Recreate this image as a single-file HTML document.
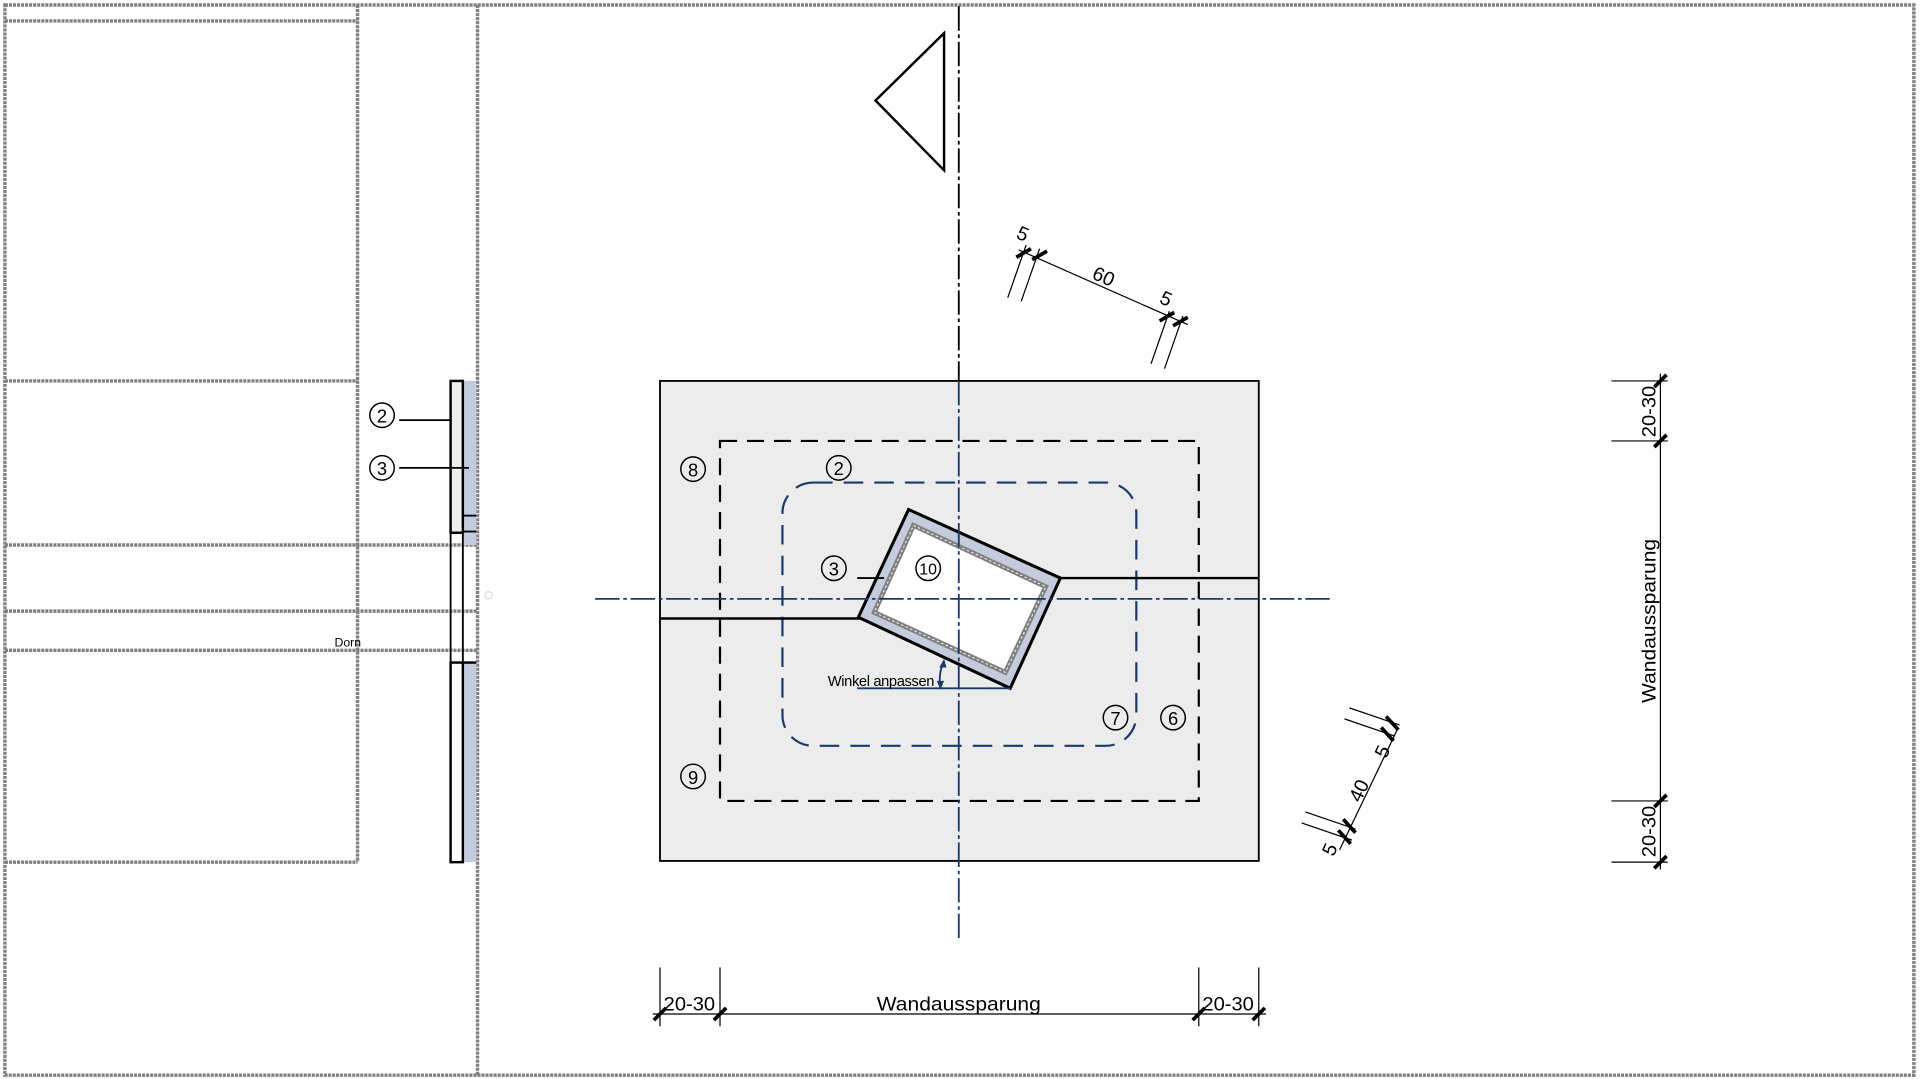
<!DOCTYPE html>
<html><head><meta charset="utf-8"><style>html,body{margin:0;padding:0;background:#fff}svg{display:block}text{font-family:"Liberation Sans",sans-serif}</style></head><body>
<svg width="1920" height="1079" viewBox="0 0 1568 881" xmlns="http://www.w3.org/2000/svg">
<rect x="0" y="0" width="1568" height="881" fill="#fff"/>
<g stroke="#808080" stroke-width="2.8" stroke-dasharray="2.5 0.8" fill="none">
<rect x="4" y="4" width="1559" height="874"/>
<line x1="390" y1="4" x2="390" y2="878"/>
<line x1="292" y1="4" x2="292" y2="704"/>
<line x1="4" y1="17" x2="292" y2="17"/>
<line x1="4" y1="311" x2="292" y2="311"/>
<line x1="4" y1="445" x2="390" y2="445"/>
<line x1="4" y1="499" x2="390" y2="499"/>
<line x1="4" y1="531" x2="390" y2="531"/>
<line x1="4" y1="704" x2="292" y2="704"/>
</g>
<rect x="378" y="311" width="11" height="134" fill="#c3cbdc"/>
<rect x="378" y="541" width="11" height="163" fill="#c3cbdc"/>
<rect x="368" y="311" width="10" height="124" fill="#eeeeee" stroke="#000" stroke-width="2"/>
<rect x="368" y="541" width="10" height="163" fill="#fff" stroke="#000" stroke-width="2"/>
<line x1="378" y1="435" x2="378" y2="541" stroke="#000" stroke-width="1.5"/>
<line x1="368" y1="435" x2="368" y2="541" stroke="#000" stroke-width="1.5"/>
<line x1="378" y1="421" x2="389" y2="421" stroke="#000" stroke-width="1.5"/>
<line x1="378" y1="434" x2="389" y2="434" stroke="#000" stroke-width="1.5"/>
<line x1="378" y1="541" x2="389" y2="541" stroke="#000" stroke-width="2"/>
<line x1="326" y1="343" x2="368" y2="343" stroke="#000" stroke-width="1.5"/>
<line x1="326" y1="382" x2="383" y2="382" stroke="#000" stroke-width="1.5"/>
<circle cx="312" cy="339" r="10" fill="none" stroke="#000" stroke-width="1.2"/>
<text x="312" y="345" font-size="15" text-anchor="middle">2</text>
<circle cx="312" cy="382" r="10" fill="none" stroke="#000" stroke-width="1.2"/>
<text x="312" y="388" font-size="15" text-anchor="middle">3</text>
<text x="284" y="528" font-size="10" text-anchor="middle">Dorn</text>
<circle cx="399" cy="486" r="3" fill="none" stroke="#ddd"/>
<rect x="539" y="311" width="489" height="392" fill="#ececec" stroke="#000" stroke-width="1.5"/>
<rect x="588" y="360" width="391" height="294" fill="none" stroke="#000" stroke-width="1.8" stroke-dasharray="14 8"/>
<rect x="639" y="394" width="289" height="215" rx="25" fill="none" stroke="#1a3a6e" stroke-width="1.8" stroke-dasharray="16 9"/>
<line x1="539" y1="505" x2="702" y2="505" stroke="#000" stroke-width="2"/>
<line x1="866" y1="472" x2="1028" y2="472" stroke="#000" stroke-width="2"/>
<polygon points="742,416 866,472 825,562 701,504" fill="#c3cbdc" stroke="#000" stroke-width="2.5"/>
<polygon points="746,429 854,479 821,549 714,500" fill="#fff" stroke="#808080" stroke-width="4"/>
<polygon points="746,429 854,479 821,549 714,500" fill="none" stroke="#fff" stroke-width="0.8" stroke-dasharray="2 2"/>
<line x1="700" y1="472" x2="722" y2="472" stroke="#000" stroke-width="1.5"/>
<line x1="783" y1="5" x2="783" y2="311" stroke="#000" stroke-width="1.5" stroke-dasharray="20 3 3 3"/>
<line x1="783" y1="311" x2="783" y2="768" stroke="#1a3a6e" stroke-width="1.5" stroke-dasharray="20 3 3 3"/>
<line x1="486" y1="489" x2="1088" y2="489" stroke="#1a3a6e" stroke-width="1.5" stroke-dasharray="20 3 3 3"/>
<line x1="700" y1="562" x2="825" y2="562" stroke="#1a3a6e" stroke-width="1.5"/>
<path d="M768 562 Q766 550 771 540" fill="none" stroke="#1a3a6e" stroke-width="1.5"/>
<path d="M771 538 l-4 7 l6 0z M768 563 l-3 -7 l6 0z" fill="#1a3a6e"/>
<text x="676" y="560" font-size="12" letter-spacing="-0.3">Winkel anpassen</text>
<g fill="none" stroke="#000" stroke-width="1.2">
<circle cx="566" cy="383" r="10"/><circle cx="685" cy="382" r="10"/><circle cx="681" cy="464" r="10"/>
<circle cx="758" cy="464" r="10"/><circle cx="911" cy="586" r="10"/><circle cx="958" cy="586" r="10"/><circle cx="566" cy="634" r="10"/>
</g>
<g font-size="15" text-anchor="middle">
<text x="566" y="389">8</text><text x="685" y="388">2</text><text x="681" y="470">3</text>
<text x="758" y="469" font-size="13">10</text><text x="911" y="592">7</text><text x="958" y="592">6</text><text x="566" y="640">9</text>
</g>
<polygon points="771,27 715,82 771,139" fill="none" stroke="#000" stroke-width="2"/>
<g stroke="#000" stroke-width="1">
<line x1="533" y1="828" x2="1034" y2="828"/>
<line x1="539" y1="790" x2="539" y2="838"/><line x1="588" y1="790" x2="588" y2="838"/>
<line x1="979" y1="790" x2="979" y2="838"/><line x1="1028" y1="790" x2="1028" y2="838"/>
</g>
<g stroke="#000" stroke-width="3">
<line x1="534" y1="833" x2="544" y2="823"/><line x1="583" y1="833" x2="593" y2="823"/>
<line x1="974" y1="833" x2="984" y2="823"/><line x1="1023" y1="833" x2="1033" y2="823"/>
</g>
<g font-size="16" text-anchor="middle">
<text x="563" y="825" textLength="42" lengthAdjust="spacingAndGlyphs">20-30</text>
<text x="783" y="825" textLength="134" lengthAdjust="spacingAndGlyphs">Wandaussparung</text>
<text x="1003" y="825" textLength="42" lengthAdjust="spacingAndGlyphs">20-30</text>
</g>
<g stroke="#000" stroke-width="1">
<line x1="1356" y1="305" x2="1356" y2="710"/>
<line x1="1316" y1="311" x2="1362" y2="311"/><line x1="1316" y1="360" x2="1362" y2="360"/>
<line x1="1316" y1="654" x2="1362" y2="654"/><line x1="1316" y1="704" x2="1362" y2="704"/>
</g>
<g stroke="#000" stroke-width="3">
<line x1="1351" y1="316" x2="1361" y2="306"/><line x1="1351" y1="365" x2="1361" y2="355"/>
<line x1="1351" y1="659" x2="1361" y2="649"/><line x1="1351" y1="709" x2="1361" y2="699"/>
</g>
<g font-size="16" text-anchor="middle">
<text transform="translate(1352,336) rotate(-90)" textLength="42" lengthAdjust="spacingAndGlyphs">20-30</text>
<text transform="translate(1352,507) rotate(-90)" textLength="134" lengthAdjust="spacingAndGlyphs">Wandaussparung</text>
<text transform="translate(1352,679) rotate(-90)" textLength="42" lengthAdjust="spacingAndGlyphs">20-30</text>
</g>
<g stroke="#000" stroke-width="1">
<line x1="832" y1="204" x2="970" y2="265"/>
<line x1="838" y1="200" x2="823" y2="243"/><line x1="849" y1="203" x2="834" y2="246"/>
<line x1="955" y1="254" x2="940" y2="297"/><line x1="966" y1="258" x2="951" y2="301"/>
</g>
<g stroke="#000" stroke-width="3">
<line x1="830" y1="210" x2="842" y2="203"/><line x1="843" y1="212" x2="855" y2="205"/>
<line x1="947" y1="262" x2="959" y2="255"/><line x1="958" y1="266" x2="970" y2="259"/>
</g>
<g font-size="16">
<text transform="translate(829,194) rotate(24)">5</text>
<text transform="translate(891,227) rotate(24)">60</text>
<text transform="translate(946,247) rotate(24)">5</text>
</g>
<g stroke="#000" stroke-width="1">
<line x1="1094" y1="694" x2="1141" y2="596"/>
<line x1="1063" y1="672" x2="1104" y2="686"/><line x1="1066" y1="663" x2="1107" y2="677"/>
<line x1="1098" y1="587" x2="1139" y2="601"/><line x1="1102" y1="578" x2="1143" y2="592"/>
</g>
<g stroke="#000" stroke-width="3">
<line x1="1093" y1="678" x2="1103" y2="689"/><line x1="1097" y1="669" x2="1107" y2="680"/>
<line x1="1128" y1="594" x2="1138" y2="605"/><line x1="1132" y1="585" x2="1142" y2="596"/>
</g>
<g font-size="16">
<text transform="translate(1089,700) rotate(-65)">5</text>
<text transform="translate(1111,656) rotate(-65)">40</text>
<text transform="translate(1132,620) rotate(-65)">5</text>
</g>
</svg>
</body></html>
